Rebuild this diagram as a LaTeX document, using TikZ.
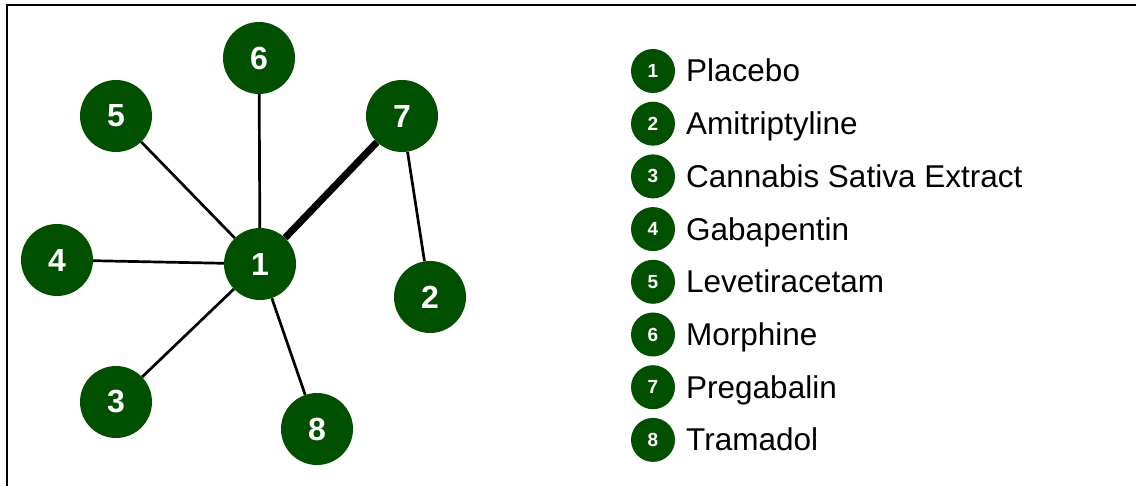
\documentclass[tikz,border=0pt]{standalone}
\usepackage{fontspec}
\setmainfont{Liberation Sans}
\definecolor{netgreen}{RGB}{0,80,0}
\tikzset{
  trt/.style={circle, fill=netgreen, draw=none, minimum size=72pt, inner sep=0pt,
    text=white, font=\fontsize{32}{32}\selectfont\bfseries},
  keydot/.style={circle, fill=netgreen, draw=none, minimum size=44pt, inner sep=0pt,
    text=white, font=\fontsize{19}{19}\selectfont\bfseries},
  keytext/.style={anchor=base west, inner sep=0pt, font=\fontsize{31.5}{31.5}\selectfont},
  edge/.style={line width=2.7pt, black},
  heavyedge/.style={line width=7pt, black},
  frame/.style={line width=2.6pt, black}
}
\begin{document}
\begin{tikzpicture}[x=1pt, y=-1pt]
\useasboundingbox (0,0) rectangle (1136,486);
% outer frame (top and left sides)
\draw[frame] (7,490) -- (7,5) -- (1140,5);
% network nodes
\node[trt] (n1) at (260,264) {1};
\node[trt] (n2) at (430,297) {2};
\node[trt] (n3) at (116,402) {3};
\node[trt] (n4) at (57,260) {4};
\node[trt] (n5) at (116,116) {5};
\node[trt] (n6) at (259,58) {6};
\node[trt] (n7) at (402,116) {7};
\node[trt] (n8) at (317,429) {8};
% comparisons
\draw[edge] (n1) -- (n5);
\draw[edge] (n1) -- (n6);
\draw[edge] (n1) -- (n4);
\draw[edge] (n1) -- (n3);
\draw[edge] (n1) -- (n8);
\draw[edge] (n7) -- (n2);
\draw[heavyedge] (n1) -- (n7);
% legend
\foreach \i/\name [count=\k from 0] in {1/Placebo, 2/Amitriptyline, 3/Cannabis Sativa Extract,
    4/Gabapentin, 5/Levetiracetam, 6/Morphine, 7/Pregabalin, 8/Tramadol} {
  \node[keydot] (k\i) at (653, 71+52.7*\k) {\i};
  \node[keytext] (t\i) at (686, 82+52.7*\k) {\name};
}
\end{tikzpicture}
\end{document}
